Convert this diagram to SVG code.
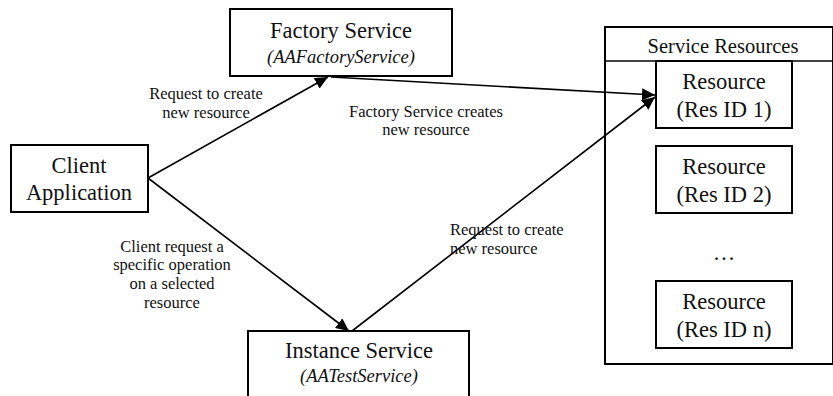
<svg xmlns="http://www.w3.org/2000/svg" width="833" height="396" viewBox="0 0 833 396" font-family="'Liberation Serif', 'Times New Roman', 'DejaVu Serif', serif">
  <defs>
    <marker id="arrow" markerUnits="userSpaceOnUse" markerWidth="14" markerHeight="12" refX="13" refY="6" orient="auto">
      <path d="M0,0 L13,6 L0,12 Z" fill="#000"/>
    </marker>
    <style>
      .box { fill: #fff; stroke: #000; stroke-width: 2; }
      text { font-family: 'Liberation Serif', 'Times New Roman', 'DejaVu Serif', serif; fill: #111; }
      .title { font-size: 22.5px; text-anchor: middle; }
      .sub { font-size: 18.5px; font-style: italic; text-anchor: middle; }
      .label { font-size: 16.5px; text-anchor: middle; }
      .left { text-anchor: start; }
      .head { font-size: 20.5px; text-anchor: middle; }
      .conn { stroke: #000; stroke-width: 1.6; fill: none; marker-end: url(#arrow); }
    </style>
  </defs>
  <rect width="833" height="396" fill="#fff"/>

  <!-- resource container with its header row -->
  <g id="service-resources">
    <rect class="box" x="605" y="27" width="228" height="337" stroke-width="1.6"/>
    <line x1="605" y1="61" x2="833" y2="61" stroke="#000" stroke-width="1.6"/>
    <text class="head" x="723" y="53">Service Resources</text>
  </g>

  <g id="resource-1">
    <rect class="box" x="656" y="61" width="136" height="67"/>
    <text class="title" x="724" y="89">Resource</text>
    <text class="title" x="724" y="117">(Res ID 1)</text>
  </g>
  <g id="resource-2">
    <rect class="box" x="656" y="146" width="136" height="67"/>
    <text class="title" x="724" y="174">Resource</text>
    <text class="title" x="724" y="202">(Res ID 2)</text>
  </g>
  <text class="title" x="724" y="260">…</text>
  <g id="resource-n">
    <rect class="box" x="656" y="281" width="136" height="67"/>
    <text class="title" x="724" y="309">Resource</text>
    <text class="title" x="724" y="337">(Res ID n)</text>
  </g>

  <g id="factory-service">
    <rect class="box" x="230" y="9" width="222" height="67"/>
    <text class="title" x="341" y="38">Factory Service</text>
    <text class="sub" x="341" y="63">(AAFactoryService)</text>
  </g>

  <g id="client-application">
    <rect class="box" x="11" y="145" width="137" height="67"/>
    <text class="title" x="79" y="173">Client</text>
    <text class="title" x="79" y="200">Application</text>
  </g>

  <g id="instance-service">
    <rect class="box" x="248" y="331" width="221" height="80"/>
    <text class="title" x="359" y="358">Instance Service</text>
    <text class="sub" x="359" y="382">(AATestService)</text>
  </g>

  <g id="connectors">
    <line class="conn" x1="148" y1="178" x2="328" y2="77"/>
    <line class="conn" x1="331" y1="77" x2="655" y2="95"/>
    <line class="conn" x1="148" y1="178" x2="349" y2="331"/>
    <line class="conn" x1="352" y1="331" x2="655" y2="97"/>
  </g>

  <g id="labels">
    <text class="label" x="206" y="99">Request to create</text>
    <text class="label" x="206" y="118">new resource</text>
    <text class="label" x="426" y="117">Factory Service creates</text>
    <text class="label" x="426" y="135">new resource</text>
    <text class="label" x="172" y="252">Client request a</text>
    <text class="label" x="172" y="270">specific operation</text>
    <text class="label" x="172" y="289">on a selected</text>
    <text class="label" x="172" y="308">resource</text>
    <text class="label left" x="450" y="235">Request to create</text>
    <text class="label left" x="450" y="254">new resource</text>
  </g>
</svg>
